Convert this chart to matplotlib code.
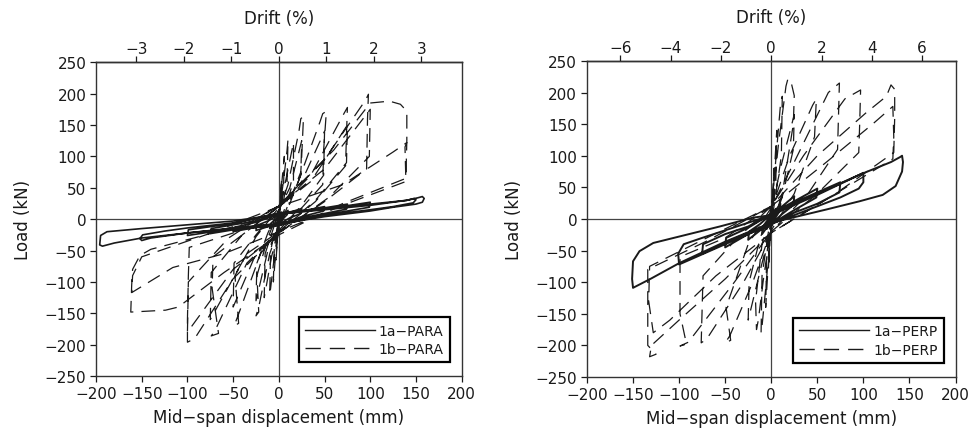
import numpy as np
import matplotlib
matplotlib.use("Agg")
import matplotlib.pyplot as plt
from matplotlib.lines import Line2D

plt.rcParams['font.family'] = ['DejaVu Sans']

# load-displacement cycles, (mid-span displacement mm, load kN) per cycle
para_1a = [
    [(0, 0), (3, 6), (5, 9), (4, 4), (0, -3), (-3, -7), (-5, -10), (-4, -4), (0, 2)],
    [(0, 2), (5, 9), (10, 14), (9, 7), (0, -6), (-5, -10), (-10, -15), (-9, -7), (0, 5)],
    [(0, 5), (12, 11), (25, 17), (24, 9), (12, 2), (0, -8), (-12, -12), (-25, -18), (-24, -10), (-12, -3), (0, 7)],
    [(0, 7), (25, 13), (50, 20), (49, 13), (25, 4), (0, -9), (-25, -13), (-50, -20), (-49, -13), (-25, -5), (0, 8)],
    [(0, 8), (25, 13), (50, 18), (75, 24), (74, 16), (50, 9), (25, 2), (0, -10), (-25, -13), (-50, -17),
     (-75, -23), (-74, -15), (-50, -9), (-25, -3), (0, 9)],
    [(0, 9), (50, 16), (100, 27), (99, 19), (75, 13), (50, 7), (0, -10), (-50, -15), (-100, -26), (-99, -17),
     (-75, -12), (-50, -7), (0, 10)],
    [(0, 10), (50, 17), (100, 24), (140, 30), (148, 33), (150, 31), (147, 26), (125, 20), (100, 15), (50, 6),
     (0, -7), (-50, -14), (-100, -22), (-140, -30), (-150, -34), (-152, -31), (-149, -25), (-125, -19),
     (-100, -14), (-50, -6), (0, 8)],
    [(0, 8), (50, 15), (100, 22), (140, 30), (152, 34), (157, 36), (159, 33), (157, 27), (150, 24), (125, 19),
     (100, 13), (50, 4), (0, -8), (-50, -15), (-100, -22), (-150, -30), (-180, -38), (-193, -43), (-196, -41),
     (-195, -26), (-188, -20), (-150, -15), (-100, -9), (-50, -3), (0, 8)],
]

para_1b = [
    [(0, 0), (2, 40), (3, 65), (2, 25), (0, -5), (-2, -40), (-3, -65), (-2, -25), (0, 5)],
    [(0, 5), (4, 70), (6, 100), (5, 45), (0, -8), (-4, -65), (-6, -100), (-5, -45), (0, 8)],
    [(0, 8), (5, 60), (9, 110), (10, 127), (9, 60), (0, -10), (-5, -60), (-9, -110), (-10, -120), (-9, -50), (0, 10)],
    [(0, 10), (8, 65), (16, 122), (16, 60), (6, 15), (0, -12), (-8, -60), (-16, -125), (-15, -55), (-6, -15), (0, 12)],
    [(0, 12), (10, 55), (22, 140), (24, 160), (27, 164), (25, 100), (24, 75), (12, 30), (0, -15), (-10, -55),
     (-22, -140), (-25, -154), (-22, -148), (-24, -90), (-12, -30), (0, 15)],
    [(0, 15), (12, 50), (25, 125), (24, 70), (12, 25), (0, -15), (-12, -50), (-25, -130), (-24, -70), (-12, -22), (0, 15)],
    [(0, 15), (20, 55), (45, 155), (48, 168), (52, 172), (49, 110), (48, 55), (25, 18), (0, -18), (-20, -55),
     (-45, -155), (-49, -170), (-44, -166), (-48, -90), (-25, -28), (0, 18)],
    [(0, 18), (25, 60), (50, 140), (49, 70), (25, 22), (0, -18), (-25, -55), (-50, -140), (-49, -70), (-25, -25), (0, 18)],
    [(0, 18), (35, 70), (70, 165), (75, 178), (74, 135), (73, 85), (40, 28), (0, -20), (-35, -70), (-70, -178),
     (-74, -186), (-66, -182), (-73, -110), (-72, -60), (-40, -25), (0, 20)],
    [(0, 20), (35, 60), (75, 150), (74, 90), (40, 30), (0, -20), (-35, -55), (-75, -160), (-74, -85), (-40, -25), (0, 20)],
    [(0, 20), (50, 95), (95, 190), (98, 199), (97, 160), (96, 80), (50, 28), (0, -22), (-50, -95), (-92, -190),
     (-100, -196), (-100, -160), (-99, -90), (-98, -45), (-50, -22), (0, 22)],
    [(0, 22), (50, 80), (100, 175), (99, 100), (55, 35), (0, -22), (-50, -80), (-100, -180), (-99, -100), (-55, -30), (0, 22)],
    [(0, 22), (60, 110), (100, 185), (121, 188), (133, 183), (140, 172), (140, 125), (139, 65), (70, 25), (0, -25),
     (-60, -85), (-110, -140), (-124, -145), (-162, -148), (-161, -105), (-160, -80), (-152, -58), (-140, -48),
     (-80, -25), (0, 20)],
    [(0, 20), (70, 55), (125, 107), (140, 122), (138, 115), (139, 60), (75, 25), (0, -20), (-60, -55), (-116, -77),
     (-161, -117), (-160, -90), (-150, -60), (-80, -25), (0, 10)],
]

perp_1a = [
    [(0, 0), (3, 10), (5, 16), (4, 6), (0, -5), (-3, -10), (-5, -16), (-4, -6), (0, 3)],
    [(0, 3), (5, 14), (10, 24), (9, 12), (0, -8), (-5, -14), (-10, -24), (-9, -12), (0, 6)],
    [(0, 6), (12, 20), (25, 36), (24, 22), (12, 8), (0, -8), (-12, -18), (-25, -33), (-24, -20), (-12, -8), (0, 8)],
    [(0, 8), (25, 28), (50, 48), (49, 34), (25, 14), (0, -8), (-25, -24), (-50, -45), (-49, -30), (-25, -14), (0, 8)],
    [(0, 8), (25, 26), (50, 42), (75, 58), (74, 42), (50, 24), (25, 10), (0, -8), (-25, -22), (-50, -38),
     (-75, -55), (-74, -40), (-50, -24), (-25, -12), (0, 8)],
    [(0, 8), (50, 40), (96, 70), (100, 73), (100, 58), (95, 48), (75, 34), (50, 20), (0, -8), (-50, -40),
     (-100, -72), (-101, -55), (-95, -40), (-75, -30), (-50, -18), (0, 6)],
    [(0, 6), (50, 38), (96, 70), (130, 90), (140, 98), (142, 100), (143, 90), (142, 75), (135, 52), (121, 38),
     (96, 28), (60, 15), (0, -6), (-50, -36), (-100, -70), (-130, -94), (-150, -109), (-151, -95), (-150, -67),
     (-143, -51), (-128, -38), (-92, -25), (-56, -12), (-20, 2), (0, 6)],
]

perp_1b = [
    [(0, 0), (2, 50), (3, 80), (2, 30), (0, -5), (-2, -50), (-3, -80), (-2, -30), (0, 5)],
    [(0, 5), (4, 90), (6, 140), (5, 60), (0, -8), (-4, -90), (-6, -140), (-5, -60), (0, 8)],
    [(0, 8), (6, 110), (10, 180), (12, 194), (11, 100), (0, -10), (-6, -110), (-10, -170), (-11, -180),
     (-10, -90), (0, 10)],
    [(0, 10), (8, 120), (16, 210), (18, 221), (21, 220), (25, 195), (24, 150), (12, 40), (0, -15), (-8, -90),
     (-14, -160), (-16, -175), (-17, -130), (-10, -40), (0, 12)],
    [(0, 12), (10, 80), (25, 165), (24, 110), (12, 35), (0, -15), (-10, -70), (-25, -160), (-24, -100), (-12, -30), (0, 15)],
    [(0, 15), (20, 100), (45, 180), (49, 190), (47, 130), (25, 40), (0, -18), (-20, -100), (-45, -185),
     (-50, -196), (-44, -192), (-49, -140), (-25, -40), (0, 18)],
    [(0, 18), (25, 90), (62, 200), (74, 215), (73, 160), (72, 110), (40, 40), (0, -20), (-30, -100), (-70, -190),
     (-76, -196), (-75, -140), (-74, -90), (-40, -35), (0, 20)],
    [(0, 20), (35, 100), (80, 190), (97, 204), (96, 150), (95, 105), (50, 40), (0, -20), (-40, -100), (-90, -195),
     (-99, -201), (-92, -198), (-99, -150), (-99, -60), (-50, -30), (0, 20)],
    [(0, 20), (50, 100), (103, 168), (125, 194), (130, 212), (134, 205), (134, 160), (133, 105), (70, 40),
     (0, -22), (-50, -95), (-100, -160), (-130, -200), (-132, -218), (-125, -214), (-134, -200), (-134, -150),
     (-134, -80), (-70, -35), (0, 20)],
    [(0, 20), (60, 90), (110, 150), (132, 178), (133, 130), (132, 95), (70, 40), (0, -22), (-60, -90),
     (-110, -160), (-128, -180), (-133, -130), (-132, -75), (-70, -30), (0, 20)],
]

# mm of mid-span displacement per 1 % drift
mm_per_pct_para = 52.0
mm_per_pct_perp = 27.3

INK = '#1a1a1a'
DASH = (0, (11, 6.5))
FS = 11


def draw(ax, cycles, **kw):
    pts = [p for c in cycles for p in c]
    x, y = zip(*pts)
    ax.plot(x, y, **kw)


def setup(ax, mm_per_pct, drift_ticks, names):
    ax.axhline(0, color='#444444', lw=0.9, zorder=1)
    ax.axvline(0, color='#444444', lw=0.9, zorder=1)
    ax.set_xlim(-200, 200)
    ax.set_ylim(-250, 250)
    ax.set_xticks(np.arange(-200, 201, 50))
    ax.set_yticks(np.arange(-250, 251, 50))
    ax.tick_params(direction='out', length=4, width=0.9, pad=3, labelsize=FS, colors=INK)
    for s in ax.spines.values():
        s.set_linewidth(1.0)
        s.set_color('#333333')
    ax.set_xlabel('Mid\u2212span displacement (mm)', fontsize=FS + 1, color=INK, labelpad=5)
    ax.set_ylabel('Load (kN)', fontsize=FS + 1, color=INK, labelpad=9)

    top = ax.secondary_xaxis('top', functions=(lambda d: d / mm_per_pct, lambda p: p * mm_per_pct))
    top.set_xticks(drift_ticks)
    top.tick_params(direction='out', length=4, width=0.9, pad=0.5, labelsize=FS, colors=INK)
    top.spines['top'].set_linewidth(1.0)
    top.set_xlabel('Drift (%)', fontsize=FS + 1, color=INK, labelpad=13)

    handles = [Line2D([], [], color=INK, lw=1.0),
               Line2D([], [], color=INK, lw=1.0, ls=DASH)]
    leg = ax.legend(handles, names, loc='lower right', bbox_to_anchor=(0.968, 0.045),
                    borderaxespad=0, fontsize=10, handlelength=5.0, handletextpad=0.3,
                    fancybox=False, framealpha=1, edgecolor='black', labelspacing=0.3,
                    borderpad=0.45)
    leg.get_frame().set_linewidth(1.6)
    for t in leg.get_texts():
        t.set_color(INK)


fig = plt.figure(figsize=(9.75, 4.39), dpi=100)
ax1 = fig.add_axes([0.0985, 0.141, 0.375, 0.715])
ax2 = fig.add_axes([0.602, 0.139, 0.378, 0.72])

draw(ax1, para_1b, color=INK, lw=0.9, ls=DASH, zorder=2)
draw(ax1, para_1a, color=INK, lw=1.2, zorder=3)
setup(ax1, mm_per_pct_para, [-3, -2, -1, 0, 1, 2, 3], ['1a\u2212PARA', '1b\u2212PARA'])

draw(ax2, perp_1b, color=INK, lw=0.9, ls=DASH, zorder=2)
draw(ax2, perp_1a, color=INK, lw=1.4, zorder=3)
setup(ax2, mm_per_pct_perp, [-6, -4, -2, 0, 2, 4, 6], ['1a\u2212PERP', '1b\u2212PERP'])

fig.savefig('out.png', dpi=100)
